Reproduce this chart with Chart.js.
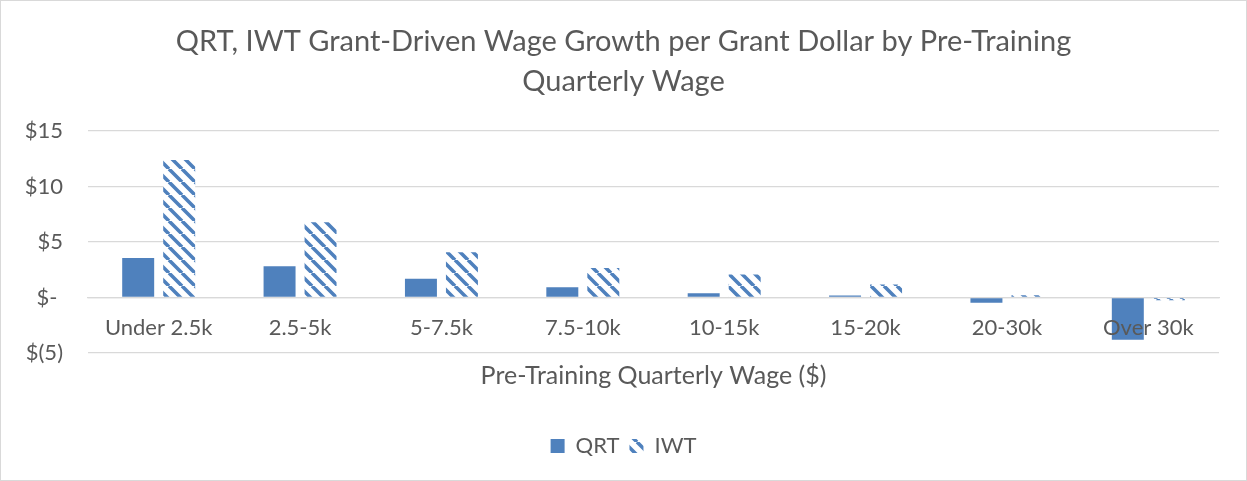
<!DOCTYPE html>
<html>
<head>
<meta charset="utf-8">
<script src="https://cdn.jsdelivr.net/npm/chart.js@4.4.1/dist/chart.umd.min.js"></script>
<style>
    body { margin: 0; background: #fff; }
    #wrap { position: relative; width: 1247px; height: 481px; }
    #frame { position: absolute; left: 0; top: 0; width: 1247px; height: 481px; box-sizing: border-box; border: 1px solid #d9d9d9; pointer-events: none; }
</style>
</head>
<body>
<div id="wrap">
    <canvas id="wageChart" width="1247" height="481"></canvas>
    <div id="frame"></div>
</div>
<script>
const categories = ['Under 2.5k', '2.5-5k', '5-7.5k', '7.5-10k', '10-15k', '15-20k', '20-30k', 'Over 30k'];
const qrtValues = [3.55, 2.82, 1.68, 0.93, 0.39, 0.18, -0.48, -3.8];
const iwtValues = [12.4, 6.78, 4.08, 2.67, 2.07, 1.17, 0.2, -0.25];
const yTicks = [-5, 0, 5, 10, 15];

const BLUE = '#4f81bd';
const TEXT = '#595959';
const GRID = '#d9d9d9';
const FONT = 'Lato, "Open Sans", sans-serif';

// diagonal stripe pattern for IWT
function stripePattern(ctx) {
    const s = 13;
    const tile = document.createElement('canvas');
    tile.width = s;
    tile.height = s;
    const t = tile.getContext('2d');
    t.fillStyle = '#ffffff';
    t.fillRect(0, 0, s, s);
    t.strokeStyle = BLUE;
    t.lineWidth = 3.6;
    t.beginPath();
    for (let k = -1; k <= 1; k++) {
        t.moveTo(k * s, 0);
        t.lineTo(k * s + s, s);
    }
    t.stroke();
    return ctx.createPattern(tile, 'repeat');
}

function money(v) {
    if (v === 0) return '$- ';
    if (v < 0) return '$(' + Math.abs(v) + ')';
    return '$' + v;
}

const ctx = document.getElementById('wageChart').getContext('2d');
const iwtFill = stripePattern(ctx);

new Chart(ctx, {
    type: 'bar',
    data: {
        labels: categories,
        datasets: [
            {
                label: 'QRT',
                data: qrtValues,
                backgroundColor: BLUE,
                categoryPercentage: 0.58,
                barPercentage: 0.78
            },
            {
                label: 'IWT',
                data: iwtValues,
                backgroundColor: iwtFill,
                categoryPercentage: 0.58,
                barPercentage: 0.78
            }
        ]
    },
    options: {
        responsive: false,
        animation: false,
        layout: {
            padding: { left: 0, right: 0, top: 0, bottom: 14 }
        },
        plugins: {
            title: {
                display: true,
                text: ['QRT, IWT Grant-Driven Wage Growth per Grant Dollar by Pre-Training', 'Quarterly Wage'],
                color: TEXT,
                font: { family: FONT, size: 29, weight: 'normal', lineHeight: 1.38 },
                padding: { top: 22, bottom: 29 }
            },
            legend: {
                position: 'bottom',
                labels: {
                    color: TEXT,
                    font: { family: FONT, size: 22 },
                    boxWidth: 14,
                    boxHeight: 14,
                    padding: 10
                }
            },
            tooltip: { enabled: false }
        },
        scales: {
            x: {
                position: { y: 0 },
                grid: { display: false, drawTicks: false },
                border: { display: true, color: GRID, width: 1.3 },
                ticks: {
                    z: 1, // labels sit on top of the negative bars
                    color: TEXT,
                    font: { family: FONT, size: 22 },
                    padding: 17,
                    maxRotation: 0,
                    autoSkip: false
                }
            },
            x2: {
                type: 'category',
                labels: categories,
                position: 'bottom',
                grid: { display: false, drawTicks: false },
                border: { display: false },
                ticks: { display: false },
                title: {
                    display: true,
                    text: 'Pre-Training Quarterly Wage ($)',
                    color: TEXT,
                    font: { family: FONT, size: 25 },
                    padding: { top: 8, bottom: 34 }
                }
            },
            y: {
                min: -5,
                max: 15,
                afterBuildTicks: (scale) => {
                    scale.ticks = yTicks.map(v => ({ value: v }));
                },
                afterFit: (scale) => {
                    scale.width = 88;
                },
                grid: { color: GRID, lineWidth: 1.3, drawTicks: false },
                border: { display: false },
                ticks: {
                    color: TEXT,
                    font: { family: FONT, size: 22 },
                    padding: 25,
                    callback: (v) => money(v)
                }
            },
            // empty right-hand margin so the title and legend stay centred on the page
            yRight: {
                type: 'linear',
                position: 'right',
                display: true,
                grid: { display: false, drawTicks: false },
                border: { display: false },
                ticks: { display: false },
                afterFit: (scale) => {
                    scale.width = 28;
                }
            }
        }
    }
});
</script>
</body>
</html>
